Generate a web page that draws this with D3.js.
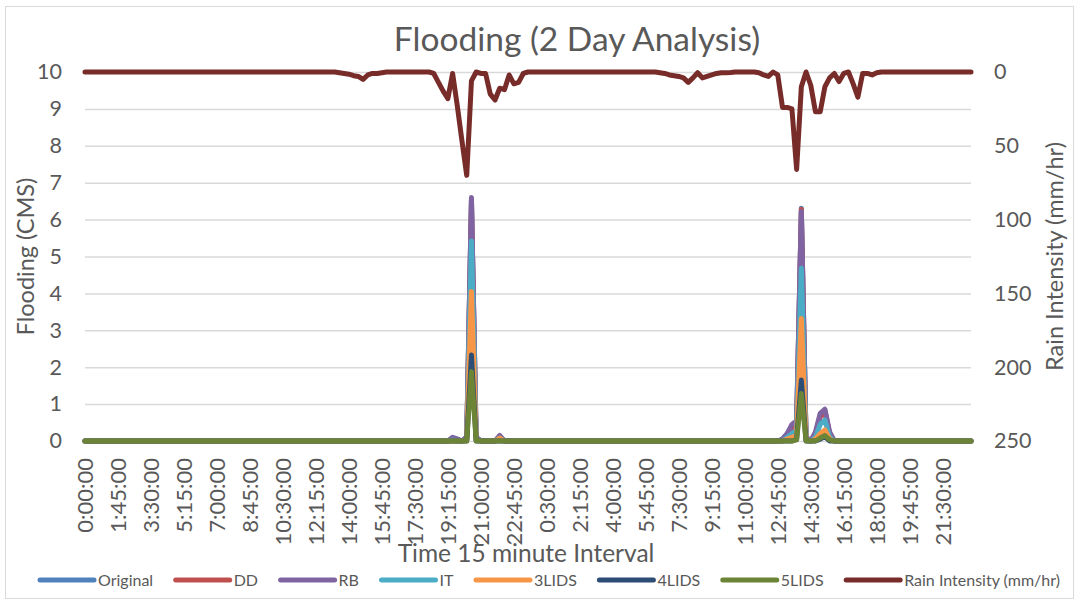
<!DOCTYPE html>
<html>
<head>
<meta charset="utf-8">
<script src="https://cdn.jsdelivr.net/npm/d3@7"></script>
<style>
body{margin:0;background:#fff;}
text{font-family:Lato,"Open Sans",sans-serif;fill:#595959;}
</style>
</head>
<body>
<script>
//SIZE
var width=1076, height=603;
var plotLeft=85, plotRight=971, plotTop=72, plotBottom=441;

//DATA - 15 minute steps, 0:00 day 1 to 23:00 day 2
var nPoints=189;
var xTickLabels=["0:00:00","1:45:00","3:30:00","5:15:00","7:00:00","8:45:00","10:30:00","12:15:00","14:00:00",
  "15:45:00","17:30:00","19:15:00","21:00:00","22:45:00","0:30:00","2:15:00","4:00:00","5:45:00","7:30:00",
  "9:15:00","11:00:00","12:45:00","14:30:00","16:15:00","18:00:00","19:45:00","21:30:00"];
var tickStep=7;
var floodTicks=[0,1,2,3,4,5,6,7,8,9,10];
var rainTicks=[0,50,100,150,200,250];

var rain=[
  0,0,0,0,0,0,0, 0,0,0,0,0,0,0, 0,0,0,0,0,0,0,
  0,0,0,0,0,0,0, 0,0,0,0,0,0,0, 0,0,0,0,0,0,0,
  0,0,0,0,0,0,0, 0,0,0,0,0, 0.5,1,1.5,2.5,3,5,2,1,1,
  0.5, 0,0,0,0,0,0,0, 0,0,0, 1,7,13,18,1,23,47,70,6,0,
  1,1,15,19,11,12,2,8,7,1, 0,0,0,0,0,0,0, 0,0,0,0,
  0,0,0,0,0,0,0, 0,0,0,0,0,0,0, 0,0,0, 0.5,1,2,2.5,
  3,4,7,4,0.5,4,3,2,1,0.5,0.5,0.3, 0,0,0,0,0, 0.5,2,3,0,
  2,24,24,25,66,10,0,9,27,27,10,4,1,6.5,1,0,8,17,1,1,2,
  0.5, 0,0,0,0,0,0,0, 0,0,0,0,0,0,0, 0,0,0,0,0,0
];
var original=[
  0,0,0,0,0,0,0, 0,0,0,0,0,0,0, 0,0,0,0,0,0,0,
  0,0,0,0,0,0,0, 0,0,0,0,0,0,0, 0,0,0,0,0,0,0,
  0,0,0,0,0,0,0, 0,0,0,0,0,0,0, 0,0,0,0,0,0,0,
  0,0,0,0,0,0,0, 0,0,0,0,0,0,0, 0, 0.08,0.05,0,0.1,6.55,0.1,
  0,0,0,0, 0.12, 0,0,0,0,0,0,0, 0,0,0,0,0,0,0, 0,0,
  0,0,0,0,0,0,0, 0,0,0,0,0,0,0, 0,0,0,0,0,0,0,
  0,0,0,0,0,0,0, 0,0,0,0,0,0,0, 0,0,0,0,0,0,0,
  0,0.05,0.2,0.4,0.5,6.31,0.1,0,0.2,0.7,0.82,0.2, 0,0,0,0,0,0,0, 0,0,
  0,0,0,0,0,0,0, 0,0,0,0,0,0,0, 0,0,0,0,0,0,0
];
var dd=[
  0,0,0,0,0,0,0, 0,0,0,0,0,0,0, 0,0,0,0,0,0,0,
  0,0,0,0,0,0,0, 0,0,0,0,0,0,0, 0,0,0,0,0,0,0,
  0,0,0,0,0,0,0, 0,0,0,0,0,0,0, 0,0,0,0,0,0,0,
  0,0,0,0,0,0,0, 0,0,0,0,0,0,0, 0, 0.05,0.03,0,0.08,6.5,0.08,
  0,0,0,0, 0.1, 0,0,0,0,0,0,0, 0,0,0,0,0,0,0, 0,0,
  0,0,0,0,0,0,0, 0,0,0,0,0,0,0, 0,0,0,0,0,0,0,
  0,0,0,0,0,0,0, 0,0,0,0,0,0,0, 0,0,0,0,0,0,0,
  0,0.03,0.15,0.35,0.45,6.28,0.08,0,0.18,0.65,0.8,0.18, 0,0,0,0,0,0,0, 0,0,
  0,0,0,0,0,0,0, 0,0,0,0,0,0,0, 0,0,0,0,0,0,0
];
var rb=[
  0,0,0,0,0,0,0, 0,0,0,0,0,0,0, 0,0,0,0,0,0,0,
  0,0,0,0,0,0,0, 0,0,0,0,0,0,0, 0,0,0,0,0,0,0,
  0,0,0,0,0,0,0, 0,0,0,0,0,0,0, 0,0,0,0,0,0,0,
  0,0,0,0,0,0,0, 0,0,0,0,0,0,0, 0, 0.1,0.05,0,0.12,6.6,0.1,
  0,0,0,0, 0.15, 0,0,0,0,0,0,0, 0,0,0,0,0,0,0, 0,0,
  0,0,0,0,0,0,0, 0,0,0,0,0,0,0, 0,0,0,0,0,0,0,
  0,0,0,0,0,0,0, 0,0,0,0,0,0,0, 0,0,0,0,0,0,0,
  0,0.05,0.2,0.45,0.55,6.22,0.1,0,0.25,0.75,0.86,0.25, 0,0,0,0,0,0,0, 0,0,
  0,0,0,0,0,0,0, 0,0,0,0,0,0,0, 0,0,0,0,0,0,0
];
var it=[
  0,0,0,0,0,0,0, 0,0,0,0,0,0,0, 0,0,0,0,0,0,0,
  0,0,0,0,0,0,0, 0,0,0,0,0,0,0, 0,0,0,0,0,0,0,
  0,0,0,0,0,0,0, 0,0,0,0,0,0,0, 0,0,0,0,0,0,0,
  0,0,0,0,0,0,0, 0,0,0,0,0,0,0, 0, 0.03,0,0,0.05,5.42,0.05,
  0,0,0,0, 0.08, 0,0,0,0,0,0,0, 0,0,0,0,0,0,0, 0,0,
  0,0,0,0,0,0,0, 0,0,0,0,0,0,0, 0,0,0,0,0,0,0,
  0,0,0,0,0,0,0, 0,0,0,0,0,0,0, 0,0,0,0,0,0,0,
  0,0,0.1,0.2,0.3,4.68,0.05,0,0.1,0.45,0.57,0.1, 0,0,0,0,0,0,0, 0,0,
  0,0,0,0,0,0,0, 0,0,0,0,0,0,0, 0,0,0,0,0,0,0
];
var lids3=[
  0,0,0,0,0,0,0, 0,0,0,0,0,0,0, 0,0,0,0,0,0,0,
  0,0,0,0,0,0,0, 0,0,0,0,0,0,0, 0,0,0,0,0,0,0,
  0,0,0,0,0,0,0, 0,0,0,0,0,0,0, 0,0,0,0,0,0,0,
  0,0,0,0,0,0,0, 0,0,0,0,0,0,0, 0, 0,0,0,0.03,4.05,0.03,
  0,0,0,0, 0.08, 0,0,0,0,0,0,0, 0,0,0,0,0,0,0, 0,0,
  0,0,0,0,0,0,0, 0,0,0,0,0,0,0, 0,0,0,0,0,0,0,
  0,0,0,0,0,0,0, 0,0,0,0,0,0,0, 0,0,0,0,0,0,0,
  0,0,0.05,0.1,0.15,3.32,0.03,0,0.05,0.2,0.3,0.05, 0,0,0,0,0,0,0, 0,0,
  0,0,0,0,0,0,0, 0,0,0,0,0,0,0, 0,0,0,0,0,0,0
];
var lids4=[
  0,0,0,0,0,0,0, 0,0,0,0,0,0,0, 0,0,0,0,0,0,0,
  0,0,0,0,0,0,0, 0,0,0,0,0,0,0, 0,0,0,0,0,0,0,
  0,0,0,0,0,0,0, 0,0,0,0,0,0,0, 0,0,0,0,0,0,0,
  0,0,0,0,0,0,0, 0,0,0,0,0,0,0, 0, 0,0,0,0,2.33,0,
  0,0,0,0,0,0,0, 0,0,0,0,0,0,0, 0,0,0,0,0,0,0,
  0,0,0,0,0,0,0, 0,0,0,0,0,0,0, 0,0,0,0,0,0,0,
  0,0,0,0,0,0,0, 0,0,0,0,0,0,0, 0,0,0,0,0,0,0,
  0,0,0,0,0.05,1.65,0,0,0,0.05,0.12,0, 0,0,0,0,0,0,0, 0,0,
  0,0,0,0,0,0,0, 0,0,0,0,0,0,0, 0,0,0,0,0,0,0
];
var lids5=[
  0,0,0,0,0,0,0, 0,0,0,0,0,0,0, 0,0,0,0,0,0,0,
  0,0,0,0,0,0,0, 0,0,0,0,0,0,0, 0,0,0,0,0,0,0,
  0,0,0,0,0,0,0, 0,0,0,0,0,0,0, 0,0,0,0,0,0,0,
  0,0,0,0,0,0,0, 0,0,0,0,0,0,0, 0, 0,0,0,0,1.88,0,
  0,0,0,0,0,0,0, 0,0,0,0,0,0,0, 0,0,0,0,0,0,0,
  0,0,0,0,0,0,0, 0,0,0,0,0,0,0, 0,0,0,0,0,0,0,
  0,0,0,0,0,0,0, 0,0,0,0,0,0,0, 0,0,0,0,0,0,0,
  0,0,0,0,0.03,1.29,0,0,0,0.08,0.15,0.03, 0,0,0,0,0,0,0, 0,0,
  0,0,0,0,0,0,0, 0,0,0,0,0,0,0, 0,0,0,0,0,0,0
];

var seriesNames=["Original","DD","RB","IT","3LIDS","4LIDS","5LIDS"];
var seriesValues=[original,dd,rb,it,lids3,lids4,lids5];
var seriesColors=["#4F81BD","#C0504D","#8064A2","#4BACC6","#F79646","#2C4D75","#6C8436"];
var rainName="Rain Intensity (mm/hr)";
var rainColor="#772C2A";

//SVG
var svg=d3.select("body").append("svg")
  .attr("width",width)
  .attr("height",height);

svg.append("rect")
  .attr("x",5.5).attr("y",6.5)
  .attr("width",1068).attr("height",592)
  .attr("fill","#fff")
  .attr("stroke","#D9D9D9");

//SCALES
var x=d3.scaleLinear().domain([0,nPoints-1]).range([plotLeft,plotRight]);
var y=d3.scaleLinear().domain([0,10]).range([plotBottom,plotTop]);
var yRain=d3.scaleLinear().domain([0,250]).range([plotTop,plotBottom]);

//GRID + LEFT AXIS
var leftAxis=svg.append("g")
  .attr("transform","translate("+plotLeft+",0)")
  .call(d3.axisLeft(y).tickValues(floodTicks).tickSize(-(plotRight-plotLeft)).tickPadding(23).tickFormat(d3.format("d")));
leftAxis.select(".domain").remove();
leftAxis.selectAll("line").attr("stroke","#D9D9D9").attr("stroke-width",1.5);
leftAxis.selectAll("text").attr("font-size","21.5px").style("font-family","Lato");

//RIGHT AXIS
var rightAxis=svg.append("g")
  .attr("transform","translate("+plotRight+",0)")
  .call(d3.axisRight(yRain).tickValues(rainTicks).tickSize(0).tickPadding(23));
rightAxis.select(".domain").remove();
rightAxis.selectAll("text").attr("font-size","21.5px").style("font-family","Lato");

//X AXIS LABELS
var xAxis=svg.append("g")
  .attr("transform","translate(0,"+plotBottom+")")
  .call(d3.axisBottom(x)
    .tickValues(xTickLabels.map(function(d,i){return i*tickStep;}))
    .tickSize(0)
    .tickFormat(function(d,i){return xTickLabels[i];}));
xAxis.select(".domain").remove();
xAxis.selectAll("text")
  .attr("font-size","22px")
  .style("font-family","Lato")
  .attr("text-anchor","end")
  .attr("transform","rotate(-90)")
  .attr("x",-17)
  .attr("y",0)
  .attr("dy","0.35em");

//LINES
var line=d3.line()
  .x(function(d,i){return x(i);})
  .y(function(d){return y(d);});
var rainLine=d3.line()
  .x(function(d,i){return x(i);})
  .y(function(d){return yRain(d);});

var lines=svg.append("g").attr("id","lines");
seriesValues.forEach(function(vals,k){
  lines.append("path")
    .attr("d",line(vals))
    .attr("fill","none")
    .attr("stroke",seriesColors[k])
    .attr("stroke-width",5)
    .attr("stroke-linejoin","round")
    .attr("stroke-linecap","round");
});
lines.append("path")
  .attr("d",rainLine(rain))
  .attr("fill","none")
  .attr("stroke",rainColor)
  .attr("stroke-width",5)
  .attr("stroke-linejoin","round")
  .attr("stroke-linecap","round");

//TITLES
svg.append("text")
  .attr("x",577).attr("y",51)
  .attr("text-anchor","middle")
  .attr("font-size","33.5px")
  .text("Flooding (2 Day Analysis)");

svg.append("text")
  .attr("transform","translate(34,"+((plotTop+plotBottom)/2)+") rotate(-90)")
  .attr("text-anchor","middle")
  .attr("font-size","23.5px")
  .text("Flooding (CMS)");

svg.append("text")
  .attr("transform","translate(1063,"+((plotTop+plotBottom)/2)+") rotate(-90)")
  .attr("text-anchor","middle")
  .attr("font-size","23.5px")
  .text("Rain Intensity (mm/hr)");

svg.append("text")
  .attr("x",526).attr("y",562)
  .attr("text-anchor","middle")
  .attr("font-size","24.5px")
  .text("Time 15 minute Interval");

//LEGEND
var legendNames=seriesNames.concat([rainName]);
var legendColors=seriesColors.concat([rainColor]);
var legend=svg.append("g").attr("id","legend");
var items=legend.selectAll("g")
  .data(legendNames)
  .enter()
  .append("g");
items.append("line")
  .attr("x1",0).attr("x2",54)
  .attr("y1",580).attr("y2",580)
  .attr("stroke",function(d,i){return legendColors[i];})
  .attr("stroke-width",5)
  .attr("stroke-linecap","round");
items.append("text")
  .attr("x",58).attr("y",580)
  .attr("dy","0.35em")
  .attr("font-size","16px")
  .text(function(d){return d;});
var widths=[];
items.each(function(){widths.push(58+d3.select(this).select("text").node().getComputedTextLength());});
var gap=(1060-40-d3.sum(widths))/(widths.length-1);
var pos=40;
items.attr("transform",function(d,i){var p=pos;pos+=widths[i]+gap;return "translate("+p+",0)";});
</script>
</body>
</html>
